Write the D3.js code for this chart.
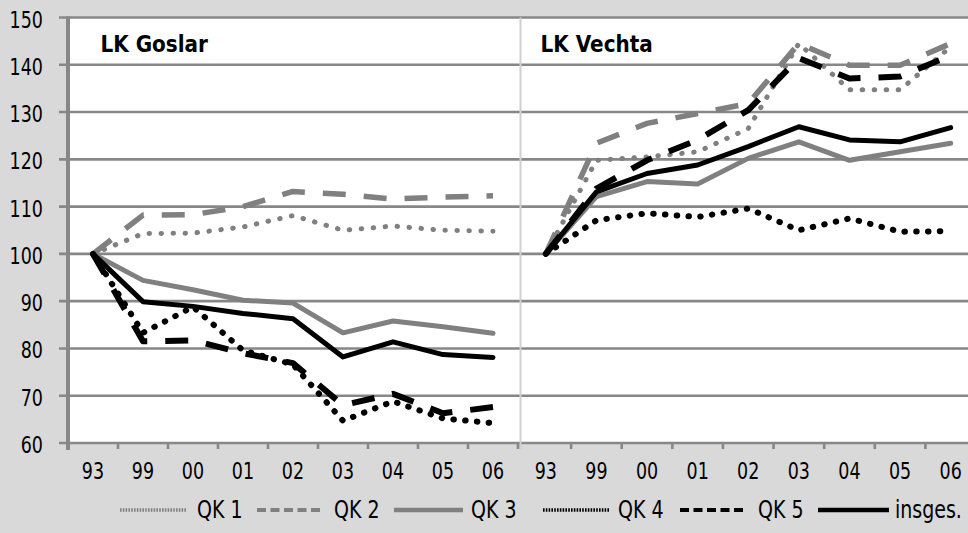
<!DOCTYPE html>
<html>
<head>
<meta charset="utf-8">
<script src="https://cdn.jsdelivr.net/npm/d3@7"></script>
<style>
  html, body { margin: 0; padding: 0; background: #d9d9d9; }
  svg { display: block; }
  text { font-family: "DejaVu Sans", Verdana, sans-serif; fill: #000; }
</style>
</head>
<body>
<div id="chart"></div>
<script>
// categories (years) - same for both districts
const years = ["93", "99", "00", "01", "02", "03", "04", "05", "06"]
const yTicks = [60, 70, 80, 90, 100, 110, 120, 130, 140, 150]
const seriesNames = ["QK 1", "QK 2", "QK 3", "QK 4", "QK 5", "insges."]
const panelTitles = ["LK Goslar", "LK Vechta"]

// LK Goslar, index 1993 = 100
const goslarQK1 = [100, 104.3, 104.4, 105.7, 108.1, 105.0, 105.9, 105.0, 104.8]
const goslarQK2 = [100, 108.2, 108.3, 110.0, 113.2, 112.6, 111.6, 112.0, 112.3]
const goslarQK3 = [100, 94.4, 92.4, 90.2, 89.6, 83.3, 85.8, 84.6, 83.2]
const goslarQK4 = [100, 83.3, 88.8, 79.6, 76.6, 64.7, 68.8, 65.2, 64.2]
const goslarQK5 = [100, 81.5, 81.7, 79.0, 76.9, 68.0, 70.4, 66.3, 67.6]
const goslarAll = [100, 89.9, 88.9, 87.4, 86.3, 78.2, 81.4, 78.7, 78.1]

// LK Vechta
const vechtaQK1 = [100, 119.8, 120.5, 121.6, 126.5, 144.5, 134.7, 134.7, 143.8]
const vechtaQK2 = [100, 123.4, 127.6, 129.7, 131.8, 144.5, 139.9, 139.9, 144.5]
const vechtaQK3 = [100, 112.1, 115.3, 114.8, 120.2, 123.7, 119.8, 121.6, 123.4]
const vechtaQK4 = [100, 107.1, 108.6, 107.8, 109.6, 105.0, 107.5, 104.7, 104.8]
const vechtaQK5 = [100, 113.8, 119.8, 124.1, 130.4, 141.4, 137.1, 137.5, 142.0]
const vechtaAll = [100, 113.1, 117.0, 118.8, 122.7, 126.9, 124.1, 123.7, 126.7]

const goslar = [goslarQK1, goslarQK2, goslarQK3, goslarQK4, goslarQK5, goslarAll]
const vechta = [vechtaQK1, vechtaQK2, vechtaQK3, vechtaQK4, vechtaQK5, vechtaAll]

// line styles per series (chart + legend sample)
const styles = [
    { color: "#808080", width: 5, dash: "0.5 11.5", cap: "round", lgWidth: 3.5, lgDash: "1.6 1.2", lgCap: "butt" },
    { color: "#808080", width: 5.5, dash: "23 18", cap: "butt", lgWidth: 4, lgDash: "9 4.5", lgCap: "butt" },
    { color: "#808080", width: 5, dash: null, cap: "round", lgWidth: 4.5, lgDash: null, lgCap: "butt" },
    { color: "#000000", width: 6, dash: "0.5 11.3", cap: "round", lgWidth: 3.5, lgDash: "1.6 1.2", lgCap: "butt" },
    { color: "#000000", width: 6, dash: "23 18", cap: "butt", lgWidth: 4, lgDash: "9 4.5", lgCap: "butt" },
    { color: "#000000", width: 5, dash: null, cap: "round", lgWidth: 4.5, lgDash: null, lgCap: "butt" }
]

const width = 968
const height = 533
const plotTop = 17.5
const plotBottom = 443
const plotLeft = 68

const svg = d3.select("#chart").append("svg")
    .attr("width", width)
    .attr("height", height)

svg.append("rect").attr("width", width).attr("height", height).attr("fill", "#d9d9d9")

const y = d3.scaleLinear().domain([60, 150]).range([plotBottom, plotTop])

// two panels side by side, each with its own band scale
const xLeft = d3.scaleBand().domain(years).range([plotLeft, 518])
const xRight = d3.scaleBand().domain(years).range([520.5, 976])

// white plot area
svg.append("rect")
    .attr("x", plotLeft).attr("y", plotTop)
    .attr("width", width - plotLeft).attr("height", plotBottom - plotTop)
    .attr("fill", "#fff")

// horizontal gridlines + y tick marks
svg.append("g")
    .selectAll("line")
    .data(yTicks)
    .enter()
    .append("line")
    .attr("x1", 59).attr("x2", width)
    .attr("y1", d => y(d)).attr("y2", d => y(d))
    .attr("stroke", "#878787")
    .attr("stroke-width", 2.6)

// divider between the two districts
svg.append("line")
    .attr("x1", 520.5).attr("x2", 520.5)
    .attr("y1", plotTop).attr("y2", plotBottom + 6)
    .attr("stroke", "#d0d0d0")
    .attr("stroke-width", 2)

// vertical axis line
svg.append("line")
    .attr("x1", plotLeft).attr("x2", plotLeft)
    .attr("y1", plotTop - 1).attr("y2", plotBottom + 7)
    .attr("stroke", "#878787")
    .attr("stroke-width", 4)

// x tick marks for both panels
const tickXs = []
years.forEach(d => tickXs.push(xLeft(d)))
tickXs.push(518)
years.forEach((d, i) => { if (i > 0) tickXs.push(xRight(d)) })
tickXs.push(976)

svg.append("g")
    .selectAll("line")
    .data(tickXs)
    .enter()
    .append("line")
    .attr("x1", d => d).attr("x2", d => d)
    .attr("y1", plotBottom).attr("y2", plotBottom + 6)
    .attr("stroke", "#878787")
    .attr("stroke-width", 2.6)

// helper: text stretched vertically a little, like the original
function addText(g, x, yPos, str, size, sy, anchor, weight) {
    return g.append("text")
        .attr("transform", `translate(${x},${yPos}) scale(1,${sy})`)
        .attr("text-anchor", anchor)
        .attr("font-size", size)
        .attr("font-weight", weight || "normal")
        .text(str)
}

// y labels
const yLabels = svg.append("g")
yTicks.forEach(t => addText(yLabels, 43, y(t) + 10, t, 17.5, 1.32, "end"))

// x labels
const xLabels = svg.append("g")
years.forEach(d => {
    addText(xLabels, xLeft(d) + xLeft.bandwidth() / 2, 479, d, 17.5, 1.32, "middle")
    addText(xLabels, xRight(d) + xRight.bandwidth() / 2, 479, d, 17.5, 1.32, "middle")
})

// panel titles
addText(svg, 100.5, 51.5, panelTitles[0], 20, 1.15, "start", "bold")
addText(svg, 540.5, 51.5, panelTitles[1], 20, 1.15, "start", "bold")

// the lines
function drawPanel(panelData, x) {
    const line = d3.line()
        .x((d, i) => x(years[i]) + x.bandwidth() / 2)
        .y(d => y(d))

    const g = svg.append("g")
    panelData.forEach((values, i) => {
        const s = styles[i]
        g.append("path")
            .datum(values)
            .attr("d", line)
            .attr("fill", "none")
            .attr("stroke", s.color)
            .attr("stroke-width", s.width)
            .attr("stroke-linecap", s.cap)
            .attr("stroke-linejoin", "round")
            .attr("stroke-dasharray", s.dash)
    })
}

drawPanel(goslar, xLeft)
drawPanel(vechta, xRight)

// legend
const legendLayout = [
    { x1: 120, x2: 187, tx: 197 },
    { x1: 257, x2: 322, tx: 334 },
    { x1: 394, x2: 463, tx: 471 },
    { x1: 543, x2: 609, tx: 618 },
    { x1: 680, x2: 744, tx: 758 },
    { x1: 818, x2: 889, tx: 895 }
]

const legend = svg.append("g")
seriesNames.forEach((name, i) => {
    const s = styles[i]
    const l = legendLayout[i]
    legend.append("line")
        .attr("x1", l.x1).attr("x2", l.x2)
        .attr("y1", 510).attr("y2", 510)
        .attr("stroke", s.color)
        .attr("stroke-width", s.lgWidth)
        .attr("stroke-linecap", s.lgCap)
        .attr("stroke-dasharray", s.lgDash)
    addText(legend, l.tx, 518, name, 19, 1.28, "start")
})
</script>
</body>
</html>
